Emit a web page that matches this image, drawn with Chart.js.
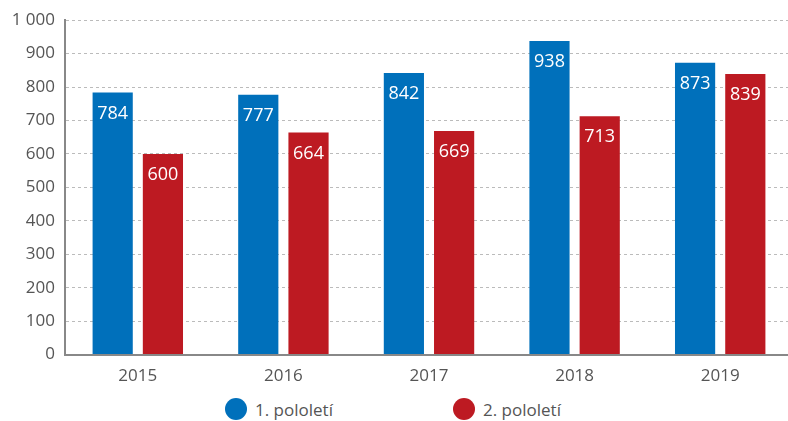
<!DOCTYPE html>
<html>
<head>
<meta charset="utf-8">
<script src="https://cdn.jsdelivr.net/npm/chart.js@4/dist/chart.umd.min.js"></script>
<style>
  body { margin: 0; background: #fff; font-family: "Open Sans", sans-serif; overflow: hidden; }
  #wrap { position: relative; width: 793px; height: 397px; }
  #legend { position: relative; width: 788px; height: 24px; font-size: 17px; color: #555; }
  .item { position: absolute; top: 0; height: 24px; display: flex; align-items: center; }
  .dot { width: 22px; height: 22px; border-radius: 50%; margin-right: 8px; }
</style>
</head>
<body>
<div id="wrap"><canvas id="chart"></canvas></div>
<div id="legend"></div>
<script>
const years = ["2015", "2016", "2017", "2018", "2019"];
const firstHalf = [784, 777, 842, 938, 873];
const secondHalf = [600, 664, 669, 713, 839];
const seriesNames = ["1. pololetí", "2. pololetí"];
const colors = ["#0070bb", "#bd1a22"];

// draw values inside bars, near the top
const valueLabels = {
  id: "valueLabels",
  afterDatasetsDraw(chart) {
    const ctx = chart.ctx;
    ctx.save();
    ctx.fillStyle = "#fff";
    ctx.font = "18px 'Open Sans'";
    ctx.textAlign = "center";
    ctx.textBaseline = "middle";
    chart.data.datasets.forEach((ds, i) => {
      chart.getDatasetMeta(i).data.forEach((bar, j) => {
        ctx.fillText(ds.data[j], bar.x, bar.y + 21);
      });
    });
    ctx.restore();
  }
};

const context = document.getElementById("chart").getContext("2d");
new Chart(context, {
  type: "bar",
  data: {
    labels: years,
    datasets: [
      { label: seriesNames[0], data: firstHalf, backgroundColor: colors[0] },
      { label: seriesNames[1], data: secondHalf, backgroundColor: colors[1] }
    ]
  },
  options: {
    responsive: true,
    maintainAspectRatio: false,
    animation: false,
    layout: { padding: { top: 12, right: 0, left: 0, bottom: 0 } },
    datasets: { bar: { categoryPercentage: 0.69, barPercentage: 0.8 } },
    plugins: { legend: { display: false }, tooltip: { enabled: false } },
    scales: {
      x: {
        grid: { display: false, drawTicks: false },
        border: { color: "#888", width: 2 },
        ticks: { color: "#555", font: { size: 17, family: "Open Sans" }, padding: 11 }
      },
      y: {
        min: 0,
        max: 1000,
        afterFit(scale) { scale.width = 65; },
        grid: { color: "#bbb", drawTicks: false },
        border: { color: "#888", width: 2, dash: [3, 3], display: true },
        ticks: {
          stepSize: 100,
          color: "#555",
          padding: 10,
          font: { size: 17, family: "Open Sans" },
          callback: v => v >= 1000 ? "1 000" : v
        }
      }
    }
  },
  plugins: [valueLabels]
});

// legend
const legend = document.getElementById("legend");
const positions = [225, 453];
seriesNames.forEach((name, i) => {
  const item = document.createElement("div");
  item.className = "item";
  item.style.left = positions[i] + "px";
  item.innerHTML = '<span class="dot" style="background:' + colors[i] + '"></span>' + name;
  legend.appendChild(item);
});
</script>
</body>
</html>
